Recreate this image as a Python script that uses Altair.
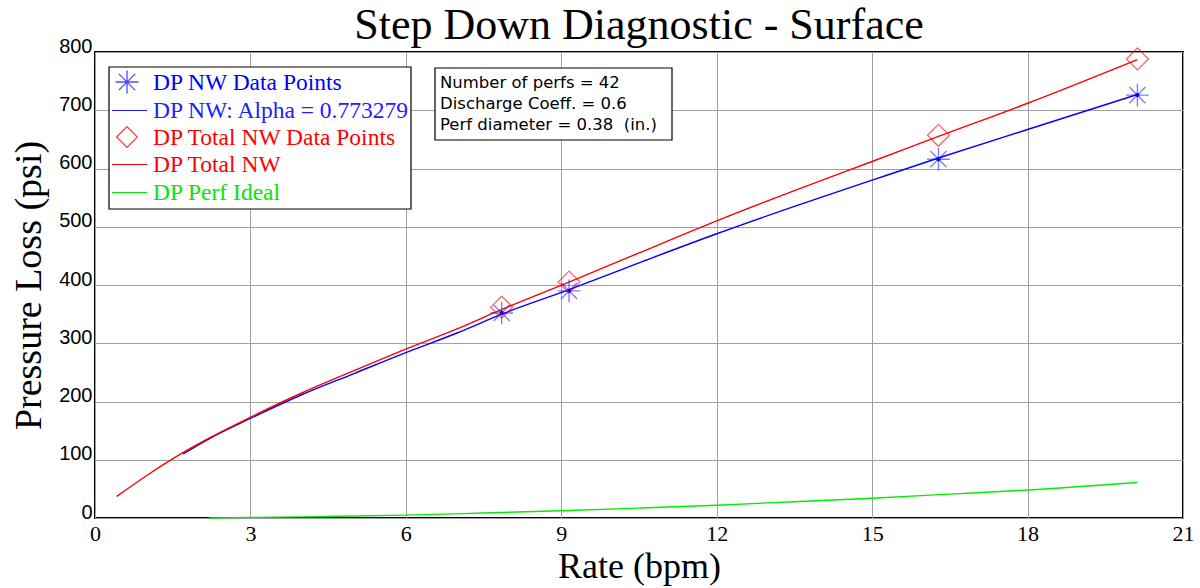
import altair as alt
import pandas as pd

# Measured step-down points (rate in bpm, pressure loss in psi)
nw_rate = [7.85, 9.15, 16.28, 20.12]
nw_dp = [352, 390, 616, 726]
total_dp = [362, 405, 657, 788]

# Fitted near-wellbore curve
fit_nw_rate = [1.7, 2.2, 3.0, 4.0, 5.0, 6.0, 7.0, 7.85, 9.15, 10.5, 12.0,
               13.5, 15.0, 16.28, 18.0, 20.12]
fit_nw_dp = [110, 136, 171, 212, 248, 284, 318, 350, 392, 438, 488,
             535, 580, 618, 667, 727]

# Fitted total near-wellbore curve
fit_total_rate = [0.42, 1.0, 1.6, 2.2, 3.0, 4.0, 5.0, 6.0, 7.0, 7.85, 9.15,
                  10.5, 12.0, 13.5, 15.0, 16.28, 18.0, 20.12]
fit_total_dp = [37, 73, 107, 137, 173, 215, 253, 290, 325, 358, 405,
                455, 510, 562, 612, 655, 712, 787]

# Ideal perforation friction
ideal_rate = [2.2, 3.0, 4.0, 5.0, 6.0, 7.5, 9.0, 10.5, 12.0, 13.5, 15.0,
              16.5, 18.0, 20.12]
ideal_dp = [0, 1, 2, 3.5, 5, 8.5, 12.5, 17, 22, 28, 34, 41, 48, 61]

x_ticks = [0, 3, 6, 9, 12, 15, 18, 21]
y_ticks = [0, 100, 200, 300, 400, 500, 600, 700, 800]

legend_labels = [
    "DP NW Data Points",
    "DP NW: Alpha = 0.773279",
    "DP Total NW Data Points",
    "DP Total NW",
    "DP Perf Ideal",
]
legend_colors = ["#0000ff", "#2020ff", "#ff0000", "#ff0000", "#00e800"]
info_lines = [
    "Number of perfs = 42",
    "Discharge Coeff. = 0.6",
    "Perf diameter = 0.38 \u00a0(in.)",
]

BLUE, RED, GREEN = "#0000ff", "#ff0000", "#00ee00"
STAR = ("M0,-1L0,1M-1,0L1,0M-0.7071,-0.7071L0.7071,0.7071"
        "M-0.7071,0.7071L0.7071,-0.7071")

W, H = 1088, 466

x_scale = alt.Scale(domain=[0, 21], nice=False, zero=False)
y_scale = alt.Scale(domain=[0, 800], nice=False)
x_axis = alt.Axis(
    values=x_ticks, title="Rate (bpm)", grid=True, ticks=False, domain=False,
    labelFont="Liberation Sans Narrow", labelFontSize=22, labelColor="black",
    labelPadding=5, labelFlush=False, titleFont="Liberation Serif",
    titleFontSize=36, titleFontWeight="normal", titleColor="black",
    titlePadding=5,
)
y_axis = alt.Axis(
    values=y_ticks, title="Pressure Loss (psi)", grid=True, ticks=False,
    domain=False, labelFont="Liberation Sans", labelFontSize=20,
    labelColor="black", labelBaseline="alphabetic", labelPadding=3,
    labelFlush=False, titleFont="Liberation Serif", titleFontSize=38,
    titleFontWeight="normal", titleColor="black", titlePadding=10,
)


def xy():
    return dict(
        x=alt.X("rate:Q", scale=x_scale, axis=x_axis),
        y=alt.Y("dp:Q", scale=y_scale, axis=y_axis),
    )


def curve(rates, values, color):
    df = pd.DataFrame({"rate": rates, "dp": values})
    return alt.Chart(df).mark_line(
        color=color, strokeWidth=1.4, interpolate="monotone"
    ).encode(**xy())


pts_nw = pd.DataFrame({"rate": nw_rate, "dp": nw_dp})
pts_total = pd.DataFrame({"rate": nw_rate, "dp": total_dp})

green_line = curve(ideal_rate, ideal_dp, GREEN)
blue_line = curve(fit_nw_rate, fit_nw_dp, BLUE)
red_line = curve(fit_total_rate, fit_total_dp, RED)

stars = alt.Chart(pts_nw).mark_point(
    shape=STAR, size=520, filled=False, color=BLUE, strokeWidth=1.4, opacity=0.5
).encode(**xy())
star_dots = alt.Chart(pts_nw).mark_point(
    shape="circle", size=18, filled=True, color=BLUE, opacity=1
).encode(**xy())
diamonds = alt.Chart(pts_total).mark_point(
    shape="diamond", size=480, filled=False, color=RED, strokeWidth=1.3,
    opacity=0.6
).encode(**xy())

# Legend box drawn in the upper-left corner of the plot
anchor = pd.DataFrame({"k": [0]})
layers = [green_line, blue_line, red_line, stars, star_dots, diamonds]

layers.append(
    alt.Chart(anchor).mark_rect(fill="white", stroke="black", strokeWidth=1.2)
    .encode(x=alt.value(14), x2=alt.value(316), y=alt.value(15), y2=alt.value(157))
)
for i, (label, col) in enumerate(zip(legend_labels, legend_colors)):
    yy = round(30 + 27.5 * i)
    if i == 0:
        layers.append(
            alt.Chart(anchor).mark_point(
                shape=STAR, size=530, filled=False, color=BLUE, strokeWidth=1.3
            ).encode(x=alt.value(32), y=alt.value(yy))
        )
    elif i == 2:
        layers.append(
            alt.Chart(anchor).mark_point(
                shape="diamond", size=430, filled=False, color=RED, strokeWidth=1.1,
                opacity=0.8
            ).encode(x=alt.value(32), y=alt.value(yy))
        )
    else:
        layers.append(
            alt.Chart(anchor).mark_rule(color=col, strokeWidth=1.2)
            .encode(x=alt.value(17), x2=alt.value(52), y=alt.value(yy + 0.5))
        )
    layers.append(
        alt.Chart(anchor).mark_text(
            text=label, align="left", baseline="middle",
            font="Liberation Serif", fontSize=23.5, color=col,
        ).encode(x=alt.value(58), y=alt.value(yy + 1))
    )

# Well parameters box
layers.append(
    alt.Chart(anchor).mark_rect(fill="white", stroke="black", strokeWidth=1.2)
    .encode(x=alt.value(340), x2=alt.value(577), y=alt.value(16), y2=alt.value(88))
)
for i, line in enumerate(info_lines):
    layers.append(
        alt.Chart(anchor).mark_text(
            text=line, align="left", baseline="middle",
            font="DejaVu Sans", fontSize=16.5, color="black",
        ).encode(x=alt.value(345), y=alt.value(31 + 21 * i))
    )

# Chart heading
layers.append(
    alt.Chart(anchor).mark_text(
        text="Step Down Diagnostic - Surface", align="center",
        baseline="alphabetic", font="Liberation Serif", fontSize=44,
        color="black",
    ).encode(x=alt.value(W / 2), y=alt.value(-13))
)

chart = alt.layer(*layers).properties(
    width=W, height=H,
    autosize=alt.AutoSizeParams(type="none"),
    padding={"left": 95, "top": 52, "right": 17, "bottom": 70},
    background="white",
).configure_view(
    stroke="black", strokeWidth=2
).configure_axis(
    gridColor="#a0a0a0", gridWidth=1, gridOpacity=1
)

chart.save("out.html", embed_options={"renderer": "svg", "actions": False})
